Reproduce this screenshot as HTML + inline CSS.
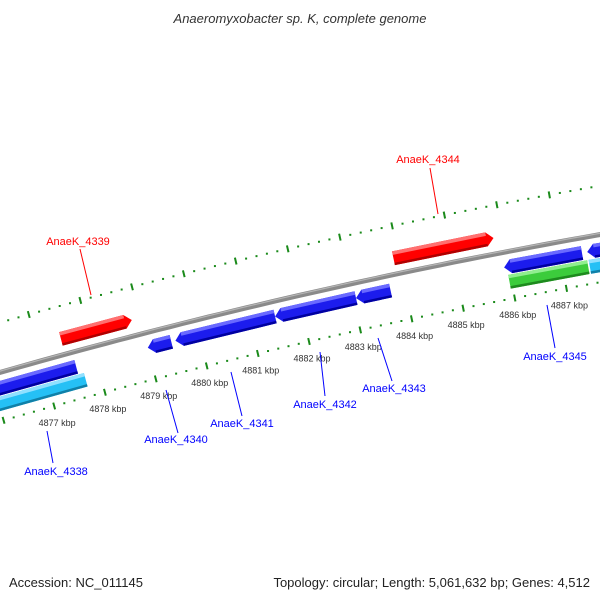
<!DOCTYPE html>
<html><head><meta charset="utf-8"><style>
html,body{margin:0;padding:0;background:#fff;}
svg{display:block;font-family:"Liberation Sans",sans-serif;}
</style></head><body>
<svg id="map" width="600" height="600" viewBox="0 0 600 600" xmlns="http://www.w3.org/2000/svg">
<rect width="600" height="600" fill="#fff"/>
<text x="300" y="23" text-anchor="middle" font-size="13" font-style="italic" fill="#333">Anaeromyxobacter sp. K, complete genome</text>
<g id="plot"></g>
<text x="9" y="587" font-size="13" fill="#222">Accession: NC_011145</text>
<text x="590" y="587" text-anchor="end" font-size="13" fill="#222">Topology: circular; Length: 5,061,632 bp; Genes: 4,512</text>
</svg>
<script>
// data
const geneNames = ["AnaeK_4338","AnaeK_4339","AnaeK_4340","AnaeK_4341","AnaeK_4342","AnaeK_4343","AnaeK_4344","AnaeK_4345","gene-next","rna-left","rna-right","green-feature"];
const geneStarts = [4875.5,4877.46,4879.00,4879.54,4881.48,4883.05,4883.90,4885.91,4887.51,4875.5,4887.51,4885.96];
const geneEnds   = [4877.60,4878.84,4879.46,4881.48,4883.05,4883.72,4885.82,4887.41,4889.5,4877.71,4889.5,4887.48];
const geneStrand = [-1,1,-1,-1,-1,-1,1,-1,-1,0,0,0];
const geneLane   = ["rev","fwd","rev","rev","rev","rev","fwd","rev","rev","rna","rna","rna"];
const geneKind   = ["blue","red","blue","blue","blue","blue","red","blue","blue","cyan","cyan","green"];
const tickLabels = [4877,4878,4879,4880,4881,4882,4883,4884,4885,4886,4887];
const tickStart = 4875.0, tickEnd = 4889.0;
// labels [name index, text x, text y, line x1,y1,x2,y2]
const geneLabels = [
 [0,56,475,47,431,53,463],[1,78,245,80,249,91,295],[2,176,443,166,390,178,433],
 [3,242,427,231,372,242,416],[4,325,408,320,352,325,396],[5,394,392,378,338,392,381],
 [6,428,163,430,168,438,214],[7,555,360,547,305,555,348]];

// geometry (axis functions)
const R = 5930, apexX = 298.2, apexY = 299.2, nx = 0.224, ny = 0.974;
const Cx = apexX + R*nx, Cy = apexY + R*ny;
const theta0 = Math.atan2(-ny, -nx), apexPos = 4881.98, pxPerKbp = 53;
function pt(pos, v){ // v positive = toward center (down)
  const th = theta0 + (pos-apexPos)*pxPerKbp/R, r = R - v;
  return [Cx + r*Math.cos(th), Cy + r*Math.sin(th)];
}
const laneV = {fwd:-16, rev:15, rna:30};
const colors = {red:["#ff0000","#ff7070","#b00000"],blue:["#1c1ced","#6a6aff","#0000a0"],
 cyan:["#25c0f5","#90e0ff","#1080a8"],green:["#3ccc3c","#90ee90","#1e8a1e"]};
const NS = "http://www.w3.org/2000/svg";
const plot = document.getElementById("plot");
function el(tag, attrs){ const e = document.createElementNS(NS, tag); for (const k in attrs) e.setAttribute(k, attrs[k]); return e; }
function poly(pts){ return pts.map(p=>p[0].toFixed(1)+","+p[1].toFixed(1)).join(" "); }

// backbone
const bb = []; for (let p=tickStart; p<=tickEnd; p+=0.25) bb.push(pt(p,0));
const back = el("polyline",{points:poly(bb),fill:"none",stroke:"#8a8a8a","stroke-width":5});


plot.appendChild(back);
const back2 = el("polyline",{points:poly(bb.map(()=>0).map((_,i)=>[bb[i][0],bb[i][1]-1.3])),fill:"none",stroke:"#b5b5b5","stroke-width":1.2});


plot.appendChild(back2);

// tick tracks
[[-48,"top"],[47,"bottom"]].forEach(([v,nm])=>{
  for (let i=Math.round(tickStart*5); i<=Math.round(tickEnd*5); i++){
    const p = i/5, major = (i%5===0);
    let t;
    if (major){ const a=pt(p,v-3.5), b=pt(p,v+3.5);
      t = el("line",{x1:a[0],y1:a[1],x2:b[0],y2:b[1],stroke:"#1a8a1a","stroke-width":2});
    } else { const a=pt(p,v); t = el("rect",{x:a[0]-1,y:a[1]-1,width:2,height:2,fill:"#1a8a1a"}); }
    
    
    plot.appendChild(t);
  }
});
tickLabels.forEach(k=>{
  const a = pt(k,47);
  const t = el("text",{x:a[0]+3,y:a[1]+20,"text-anchor":"middle","font-size":9,fill:"#333"});
  t.textContent = k+" kbp";
  
  
  plot.appendChild(t);
});

// genes
const H = 14, AH = 7;
geneNames.forEach((nm,i)=>{
  const s = geneStarts[i], e = geneEnds[i], v = laneV[geneLane[i]], dir = geneStrand[i];
  const c = colors[geneKind[i]], ak = AH/pxPerKbp;
  const g = el("g",{});
  
  
  let body;
  if (dir===1) body=[pt(s,v-H/2),pt(e-ak,v-H/2),pt(e,v),pt(e-ak,v+H/2),pt(s,v+H/2)];
  else if (dir===-1) body=[pt(s,v),pt(s+ak,v-H/2),pt(e,v-H/2),pt(e,v+H/2),pt(s+ak,v+H/2)];
  else body=[pt(s,v-H/2),pt(e,v-H/2),pt(e,v+H/2),pt(s,v+H/2)];
  g.appendChild(el("polygon",{points:poly(body),fill:c[0]}));
  const s2 = dir===-1? s+ak: s, e2 = dir===1? e-ak: e;
  g.appendChild(el("polygon",{points:poly([pt(s2,v-H/2),pt(e2,v-H/2),pt(e2,v-H/2+3.5),pt(s2,v-H/2+3.5)]),fill:c[1]}));
  g.appendChild(el("polygon",{points:poly([pt(s2,v+H/2-2.5),pt(e2,v+H/2-2.5),pt(e2,v+H/2),pt(s2,v+H/2)]),fill:c[2]}));
  plot.appendChild(g);
});

// gene labels
geneLabels.forEach(L=>{
  const col = geneKind[L[0]]==="red" ? "#ff0000" : "#0000ff";
  const ln = el("line",{x1:L[3],y1:L[4],x2:L[5],y2:L[6],stroke:col,"stroke-width":1});
  
  
  plot.appendChild(ln);
  const t = el("text",{x:L[1],y:L[2],"text-anchor":"middle","font-size":11,fill:col});
  t.textContent = geneNames[L[0]];
  
  
  plot.appendChild(t);
});
</script>
</body></html>
